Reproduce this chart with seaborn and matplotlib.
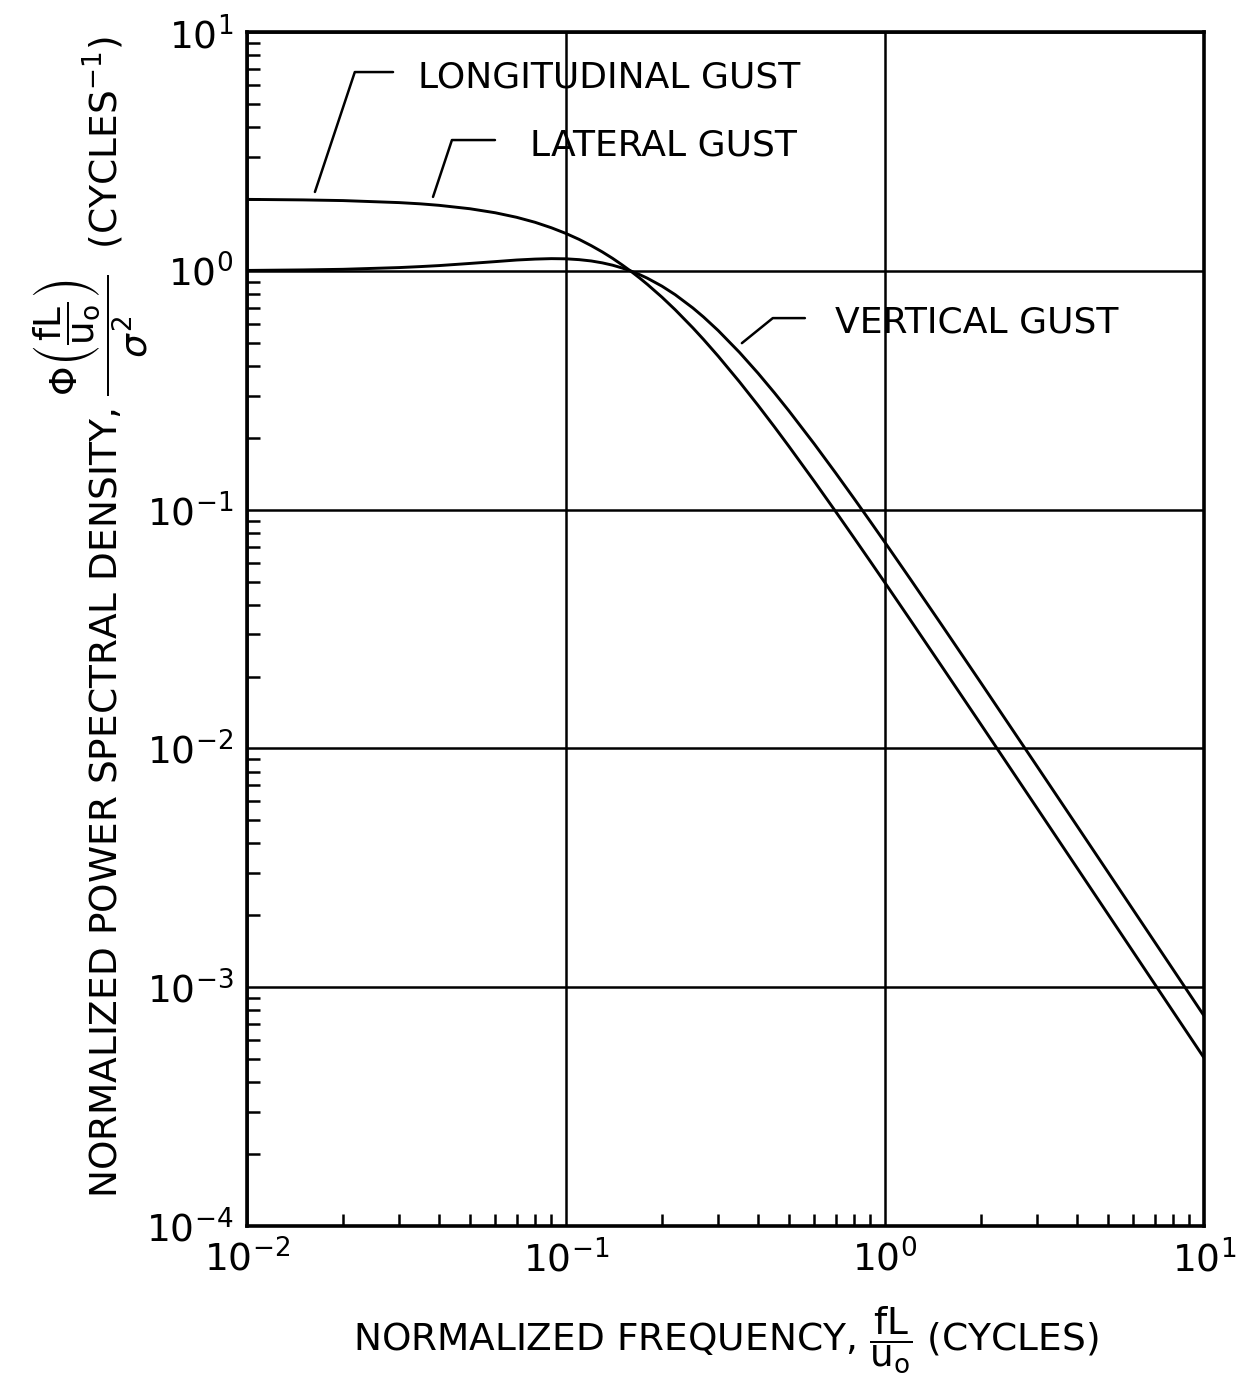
import matplotlib
matplotlib.use("Agg")
import matplotlib.pyplot as plt
import pandas as pd
import seaborn as sns
from matplotlib.ticker import LogLocator, NullFormatter

# Normalized frequency fL/u0 (cycles) at which the spectra are tabulated
freq = [0.01, 0.015, 0.02, 0.03, 0.035, 0.04, 0.05, 0.06, 0.07, 0.08,
        0.09, 0.1, 0.11, 0.12, 0.13, 0.14, 0.15, 0.16, 0.17, 0.18,
        0.2, 0.22, 0.25, 0.27, 0.3, 0.35, 0.4, 0.45, 0.5, 0.6,
        0.7, 0.8, 0.9, 1.0, 1.2, 1.5, 2.0, 3.0, 4.0, 5.0,
        6.0, 8.0, 10.0]

# Normalized power spectral density (cycles^-1)
longitudinal = [1.992, 1.982, 1.969, 1.931, 1.908, 1.881, 1.820, 1.751, 1.676, 1.597,
                1.515, 1.434, 1.354, 1.275, 1.200, 1.128, 1.059, 0.9947, 0.9342, 0.8775,
                0.7755, 0.6871, 0.5768, 0.5157, 0.4393, 0.3427, 0.2734, 0.2224, 0.1840, 0.1315,
                0.09831, 0.07614, 0.06065, 0.04941, 0.03457, 0.02226, 0.01259, 0.005613, 0.003161, 0.002024,
                0.001406, 0.000791, 0.0005065]
lateral_vertical = [1.004, 1.009, 1.015, 1.032, 1.042, 1.052, 1.074, 1.093, 1.110, 1.120,
                    1.125, 1.123, 1.114, 1.100, 1.080, 1.056, 1.028, 0.9973, 0.9649, 0.9313,
                    0.8625, 0.7946, 0.6989, 0.6406, 0.5624, 0.4553, 0.3727, 0.3088, 0.2591, 0.1886,
                    0.1426, 0.1113, 0.08913, 0.07289, 0.05126, 0.03315, 0.01880, 0.008404, 0.004737, 0.003035,
                    0.002108, 0.001187, 0.0007596]

x_limits = [1e-2, 1e1]
y_limits = [1e-4, 1e1]

sns.set_style("white")
plt.rcParams["font.family"] = ["DejaVu Sans"]
plt.rcParams["mathtext.fontset"] = "dejavusans"
plt.rcParams["text.color"] = "black"
plt.rcParams["axes.labelcolor"] = "black"

df = pd.DataFrame({
    "freq": freq + freq,
    "psd": longitudinal + lateral_vertical,
    "gust": ["longitudinal"] * len(freq) + ["lateral"] * len(freq),
})

fig = plt.figure(figsize=(12.38, 14), dpi=100)
ax = fig.add_axes([0.1995, 0.1243, 0.7730, 0.8528])

sns.lineplot(data=df, x="freq", y="psd", units="gust", estimator=None,
             color="black", linewidth=2.1, legend=False, ax=ax)

ax.set_xscale("log")
ax.set_yscale("log")
ax.set_xlim(*x_limits)
ax.set_ylim(*y_limits)

# decade grid and inward minor ticks on the left/bottom edges
ax.grid(which="major", color="black", linewidth=1.8)
ax.xaxis.set_minor_locator(LogLocator(base=10, subs=range(2, 10)))
ax.yaxis.set_minor_locator(LogLocator(base=10, subs=range(2, 10)))
ax.xaxis.set_minor_formatter(NullFormatter())
ax.yaxis.set_minor_formatter(NullFormatter())
ax.tick_params(which="major", length=0, labelsize=27, pad=10,
               colors="black", labelcolor="black")
ax.tick_params(which="minor", direction="in", length=9, width=1.8,
               left=True, bottom=True, right=False, top=False, color="black")
for spine in ax.spines.values():
    spine.set_linewidth(2.6)
    spine.set_color("black")

ax.set_xlabel(r"NORMALIZED FREQUENCY, $\dfrac{\mathrm{fL}}{\mathrm{u_o}}$ (CYCLES)",
              fontsize=27, labelpad=18)
ax.set_ylabel(r"NORMALIZED POWER SPECTRAL DENSITY, "
              r"$\dfrac{\Phi\left(\dfrac{\mathrm{fL}}{\mathrm{u_o}}\right)}{\sigma^2}$"
              r"  (CYCLES$^{-1}$)",
              fontsize=27)
ax.yaxis.set_label_coords(-0.101, 0.51)

# curve labels with elbow leader lines
labels = [
    ("LONGITUDINAL GUST", (0.01633, 2.14), (0.0287, 6.80), (0.0344, 6.43), 71.6),
    ("LATERAL GUST", (0.0383, 2.04), (0.0599, 3.53), (0.0771, 3.365), 71.6),
    ("VERTICAL GUST", (0.356, 0.498), (0.561, 0.634), (0.697, 0.605), 39.0),
]
for text, tip, elbow_end, text_pos, angle in labels:
    ax.annotate("", xy=tip, xytext=elbow_end,
                arrowprops=dict(arrowstyle="-", color="black", linewidth=1.8,
                                shrinkA=0, shrinkB=0,
                                connectionstyle=f"angle,angleA=0,angleB={angle},rad=0"))
    ax.text(text_pos[0], text_pos[1], text, fontsize=26, ha="left", va="center",
            color="black")

fig.savefig("out.png", dpi=100, facecolor="white")
